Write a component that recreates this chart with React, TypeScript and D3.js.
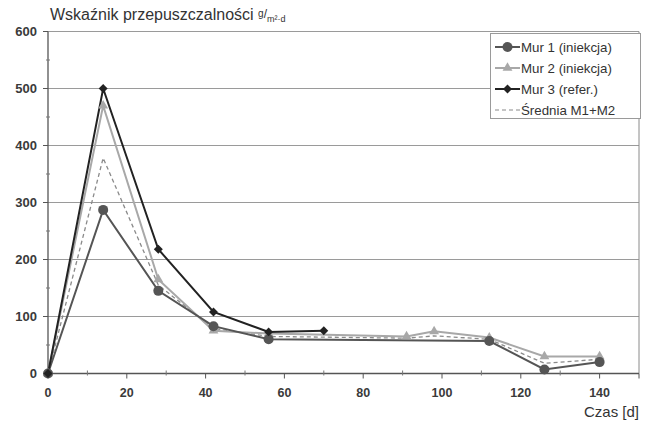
import React from "react";
import * as d3 from "d3";

// data (days vs. permeability index)
const daysMur1 = [0, 14, 28, 42, 56, 112, 126, 140];
const valuesMur1 = [0, 287, 145, 83, 60, 57, 7, 20];

const daysMur2 = [0, 14, 28, 42, 56, 91, 98, 112, 126, 140];
const valuesMur2 = [0, 470, 165, 75, 70, 65, 74, 63, 30, 30];

const daysMur3 = [0, 14, 28, 42, 56, 70];
const valuesMur3 = [0, 500, 218, 108, 73, 75];

const daysAvg = [0, 14, 28, 42, 56, 91, 98, 112, 126, 140];
const valuesAvg = [0, 378, 155, 79, 65, 62, 66, 60, 18, 25];

const xTicks = [0, 20, 40, 60, 80, 100, 120, 140];
const yTicks = [0, 100, 200, 300, 400, 500, 600];
const legendLabels = ["Mur 1 (iniekcja)", "Mur 2 (iniekcja)", "Mur 3 (refer.)", "Średnia M1+M2"];

const W = 653;
const H = 423;
const font = "'Liberation Sans', Arial, sans-serif";

export default function App() {
  const x = d3.scaleLinear().domain([0, 150]).range([48, 639]);
  const y = d3.scaleLinear().domain([0, 600]).range([373.5, 31.5]);

  const line = d3
    .line<[number, number]>()
    .x((d) => x(d[0]))
    .y((d) => y(d[1]));

  const zip = (a: number[], b: number[]) => a.map((v, i) => [v, b[i]] as [number, number]);
  const m1 = zip(daysMur1, valuesMur1);
  const m2 = zip(daysMur2, valuesMur2);
  const m3 = zip(daysMur3, valuesMur3);
  const avg = zip(daysAvg, valuesAvg);

  const tri = d3.symbol().type(d3.symbolTriangle).size(42)();
  const dia = d3.symbol().type(d3.symbolSquare).size(40)();

  const c1 = "#555";
  const c2 = "#a8a8a8";
  const c3 = "#222";
  const cAvg = "#8a8a8a";

  const minorX = d3.range(10, 150, 20);
  const minorY = d3.range(50, 600, 100);

  const legX = 495;
  const legY = [47, 68, 89, 110];

  const marker = (k: number, cx: number, cy: number, key: string) => {
    if (k === 0) return <circle key={key} cx={cx} cy={cy} r={5} fill={c1} />;
    if (k === 1) return <path key={key} d={tri!} transform={`translate(${cx},${cy})`} fill={c2} />;
    if (k === 2) return <path key={key} d={dia!} transform={`translate(${cx},${cy}) rotate(45)`} fill={c3} />;
    return null;
  };

  return (
    <svg width={W} height={H} style={{ position: "fixed", left: 0, top: 0, background: "#fff" }} fontFamily={font}>
      {/* grid */}
      {yTicks.slice(1).map((t) => (
        <line key={t} x1={x(0)} x2={x(150)} y1={y(t)} y2={y(t)} stroke="#9a9a9a" strokeWidth={1} />
      ))}
      <line x1={x(150)} x2={x(150)} y1={y(600)} y2={y(0)} stroke="#8a8a8a" />

      {/* y axis */}
      <line x1={x(0)} x2={x(0)} y1={y(600)} y2={y(0)} stroke="#555" strokeWidth={1.3} />
      {yTicks.map((t) => (
        <g key={t}>
          <line x1={x(0) - 5} x2={x(0)} y1={y(t)} y2={y(t)} stroke="#555" />
          <text x={37} y={y(t)} dy="0.35em" textAnchor="end" fontSize={13} fontWeight="bold" fill="#3a3a3a">
            {t}
          </text>
        </g>
      ))}
      {minorY.map((t) => (
        <line key={t} x1={x(0) - 2} x2={x(0) + 2} y1={y(t)} y2={y(t)} stroke="#777" />
      ))}

      {/* x axis */}
      <line x1={x(0)} x2={x(150)} y1={y(0)} y2={y(0)} stroke="#555" strokeWidth={1.3} />
      {xTicks.map((t) => (
        <g key={t}>
          <line x1={x(t)} x2={x(t)} y1={y(0)} y2={y(0) + 5} stroke="#555" />
          <text x={x(t)} y={397} textAnchor="middle" fontSize={12.5} fontWeight="bold" fill="#3a3a3a">
            {t}
          </text>
        </g>
      ))}
      {minorX.map((t) => (
        <line key={t} x1={x(t)} x2={x(t)} y1={y(0) - 3} y2={y(0) + 2} stroke="#777" />
      ))}
      <line x1={x(150)} x2={x(150)} y1={y(0)} y2={y(0) + 5} stroke="#555" />

      {/* series */}
      <path d={line(avg)!} fill="none" stroke={cAvg} strokeWidth={1.3} strokeDasharray="4,3" />
      <path d={line(m2)!} fill="none" stroke={c2} strokeWidth={2} />
      <path d={line(m1)!} fill="none" stroke={c1} strokeWidth={2} />
      <path d={line(m3)!} fill="none" stroke={c3} strokeWidth={2} />
      {m2.map((d, i) => marker(1, x(d[0]), y(d[1]), "m2" + i))}
      {m1.map((d, i) => marker(0, x(d[0]), y(d[1]), "m1" + i))}
      {m3.map((d, i) => marker(2, x(d[0]), y(d[1]), "m3" + i))}

      {/* legend */}
      <rect x={490.5} y={33.5} width={150} height={85} fill="#fff" stroke="#9a9a9a" />
      {legendLabels.map((lab, i) => {
        const cols = [c1, c2, c3, cAvg];
        return (
          <g key={lab}>
            <line
              x1={legX}
              x2={legX + 25}
              y1={legY[i]}
              y2={legY[i]}
              stroke={cols[i]}
              strokeWidth={i === 3 ? 1.2 : 2}
              strokeDasharray={i === 3 ? "4,3" : undefined}
            />
            {marker(i, legX + 12.5, legY[i], "lm" + i)}
            <text x={legX + 26} y={legY[i]} dy="0.35em" fontSize={13.3} fill="#333">
              {lab}
            </text>
          </g>
        );
      })}

      {/* titles */}
      <text x={50} y={20} fontSize={16} fill="#333">
        Wskaźnik przepuszczalności{" "}
        <tspan fontSize={10} dy={-3}>g</tspan>
        <tspan fontSize={12} dy={1}>/</tspan>
        <tspan fontSize={9} dy={4}>m²·d</tspan>
      </text>
      <text x={639} y={417} textAnchor="end" fontSize={15} fill="#333">
        Czas [d]
      </text>
    </svg>
  );
}
